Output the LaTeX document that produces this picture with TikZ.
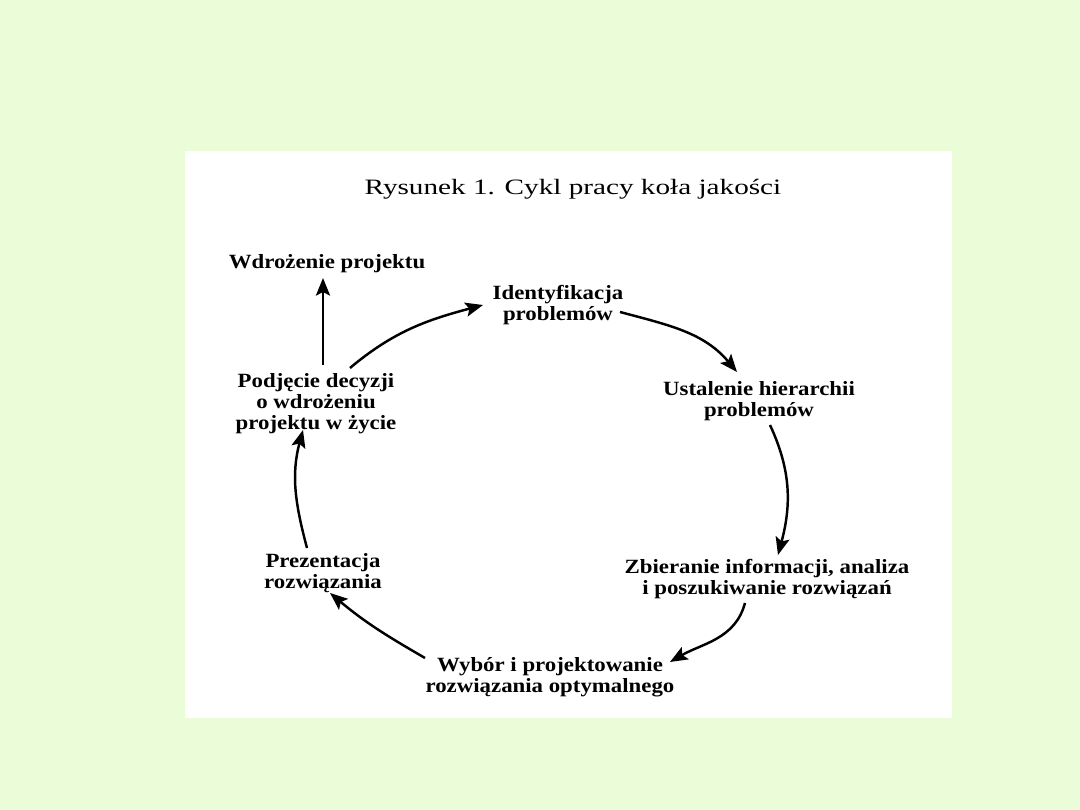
\documentclass[tikz,border=0pt]{standalone}
\usepackage{fontspec}
\setmainfont{Liberation Serif}
\newfontfamily\titlefont[FakeStretch=1.33]{Liberation Serif}
\newfontfamily\stagefont[FakeStretch=1.13]{Liberation Serif}
\usetikzlibrary{arrows.meta}
\definecolor{slidegreen}{RGB}{235,253,216}
\tikzset{
  stagebox/.style={inner sep=0pt, align=center,
    font=\stagefont\bfseries\fontsize{11.5}{12}\selectfont},
  titlebox/.style={inner sep=0pt, font=\titlefont\fontsize{12.5}{14}\selectfont},
  cyclearrow/.style={line width=1.4pt, -{Stealth[length=10pt, width=8pt, inset=2pt]}},
}

\begin{document}
\begin{tikzpicture}[x=0.02cm, y=0.02cm]
  \fill[slidegreen] (0,0) rectangle (1080,810);
  \fill[white] (185,92) rectangle (952,659);

  \node[titlebox] (title) at (573,621) {Rysunek 1. Cykl pracy koła jakości};

  \node[stagebox] (wdr) at (327,546) {Wdrożenie projektu};
  \node[stagebox] (ident) at (558,505) {Identyfikacja\\problemów};
  \node[stagebox] (ustal) at (759,409) {Ustalenie hierarchii\\problemów};
  \node[stagebox] (zbier) at (767,231) {Zbieranie informacji, analiza\\i poszukiwanie rozwiązań};
  \node[stagebox] (wybor) at (550,133) {Wybór i projektowanie\\rozwiązania optymalnego};
  \node[stagebox] (prez) at (323,237) {Prezentacja\\rozwiązania};
  \node[stagebox] (pod) at (316,406) {Podjęcie decyzji\\o wdrożeniu\\projektu w życie};

  \draw[cyclearrow] ([shift={(34,36)}]pod.center) to[out=40, in=195] ([shift={(-75,0)}]ident.center);
  \draw[cyclearrow] ([shift={(62,-7)}]ident.center) to[out=-15, in=130] ([shift={(-22,29)}]ustal.center);
  \draw[cyclearrow] ([shift={(11,-24)}]ustal.center) to[out=-65, in=75] ([shift={(11,24)}]zbier.center);
  \draw[cyclearrow] ([shift={(-22,-24)}]zbier.center) to[out=-105, in=30] ([shift={(120,15)}]wybor.center);
  \draw[cyclearrow] ([shift={(-125,19)}]wybor.center) to[out=150, in=-40] ([shift={(7,-20)}]prez.center);
  \draw[cyclearrow] ([shift={(-16,25)}]prez.center) to[out=105, in=-105] ([shift={(-13,-26)}]pod.center);
  \draw[cyclearrow] ([shift={(7,39)}]pod.center) -- ([shift={(-4,-14)}]wdr.center);
\end{tikzpicture}
\end{document}
